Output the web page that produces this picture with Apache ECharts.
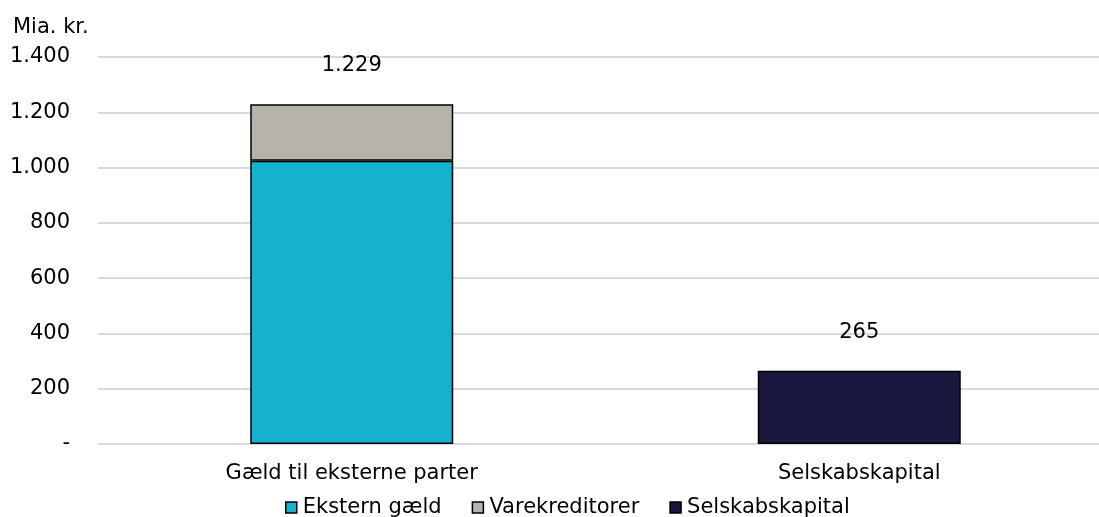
<!DOCTYPE html>
<html>
<head>
<meta charset="utf-8">
<script src="https://cdn.jsdelivr.net/npm/echarts@6/dist/echarts.min.js"></script>
<style>
html,body{margin:0;padding:0;background:#fff;}
#chart{width:1099px;height:517px;}
</style>
</head>
<body>
<div id="chart"></div>
<script>
const categories = ['Gæld til eksterne parter', 'Selskabskapital'];
const eksternGaeld = [1025, null];
const varekreditorer = [204, null];
const selskabskapital = [null, 265];
const yTicks = [0, 200, 400, 600, 800, 1000, 1200, 1400];

function fmt(v) {
  if (v === 0) return '-';
  return String(Math.round(v)).replace(/\B(?=(\d{3})+(?!\d))/g, '.');
}

const FONT = 'DejaVu Sans';
const FS = 21;
const chart = echarts.init(document.getElementById('chart'), null, {renderer: 'canvas'});
chart.setOption({
  animation: false,
  backgroundColor: '#fff',
  textStyle: {fontFamily: FONT},
  title: {
    text: 'Mia. kr.', left: 13, top: 17, padding: 0,
    textStyle: {fontFamily: FONT, fontSize: FS, fontWeight: 'normal', color: '#000'}
  },
  legend: {
    left: 285, top: 497, padding: 0,
    itemWidth: 11, itemHeight: 11, itemGap: 30,
    icon: 'rect',
    itemStyle: {borderColor: '#000', borderWidth: 1.5},
    textStyle: {fontFamily: FONT, fontSize: FS, color: '#000', padding: [0, 0, 0, 1]},
    data: ['Ekstern gæld', 'Varekreditorer', 'Selskabskapital']
  },
  grid: {left: 98, top: 57, width: 1015, height: 387, containLabel: false, outerBoundsMode: 'none'},
  xAxis: {
    type: 'category', data: categories,
    axisLine: {show: true, lineStyle: {color: '#d9d9d9', width: 2}},
    axisTick: {show: false},
    axisLabel: {fontFamily: FONT, fontSize: FS, color: '#000', margin: 19}
  },
  yAxis: {
    type: 'value', min: yTicks[0], max: yTicks[yTicks.length - 1], interval: 200,
    axisLine: {show: false}, axisTick: {show: false},
    splitLine: {lineStyle: {color: '#d9d9d9', width: 2}},
    axisLabel: {fontFamily: FONT, fontSize: FS, color: '#000', margin: 28, formatter: fmt}
  },
  series: [
    {
      name: 'Ekstern gæld', type: 'bar', stack: 'a', data: eksternGaeld, barWidth: 203,
      itemStyle: {color: '#14B2CF', borderColor: '#000', borderWidth: 1.5}
    },
    {
      name: 'Varekreditorer', type: 'bar', stack: 'a', data: varekreditorer, barWidth: 203,
      itemStyle: {color: '#B6B4A8', borderColor: '#000', borderWidth: 1.5},
      label: {
        show: true, position: 'top', distance: 28,
        fontFamily: FONT, fontSize: FS, color: '#000',
        formatter: p => fmt((eksternGaeld[p.dataIndex] || 0) + (varekreditorer[p.dataIndex] || 0))
      }
    },
    {
      name: 'Selskabskapital', type: 'bar', stack: 'a', data: selskabskapital, barWidth: 203,
      itemStyle: {color: '#19183F', borderColor: '#000', borderWidth: 1.5},
      label: {
        show: true, position: 'top', distance: 28,
        fontFamily: FONT, fontSize: FS, color: '#000',
        formatter: p => fmt(p.value)
      }
    }
  ]
});
</script>
</body>
</html>
